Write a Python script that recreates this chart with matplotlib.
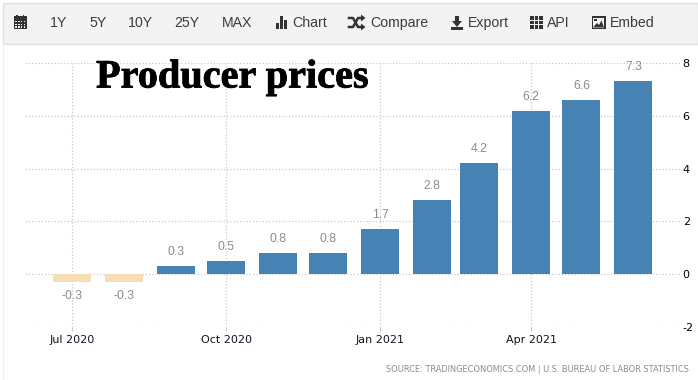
import matplotlib
matplotlib.use("Agg")
import matplotlib.dates as mdates
import matplotlib.patheffects as pe
import matplotlib.pyplot as plt
import numpy as np
import pandas as pd
from matplotlib.patches import Polygon, Rectangle

plt.rcParams["axes.unicode_minus"] = False

W, H = 698, 380

months = ["2020-07", "2020-08", "2020-09", "2020-10", "2020-11", "2020-12",
          "2021-01", "2021-02", "2021-03", "2021-04", "2021-05", "2021-06"]
values = [-0.3, -0.3, 0.3, 0.5, 0.8, 0.8, 1.7, 2.8, 4.2, 6.2, 6.6, 7.3]
value_labels = ["-0.3", "-0.3", "0.3", "0.5", "0.8", "0.8", "1.7", "2.8", "4.2", "6.2", "6.6", "7.3"]
y_ticks = [-2, 0, 2, 4, 6, 8]
x_ticks = ["2020-07-01", "2020-10-01", "2021-01-01", "2021-04-01"]
x_tick_labels = ["Jul 2020", "Oct 2020", "Jan 2021", "Apr 2021"]
menu_labels = ["1Y", "5Y", "10Y", "25Y", "MAX"]
menu_x = [50, 89, 128, 174, 222]
tool_labels = ["Chart", "Compare", "Export", "API", "Embed"]
tool_x = [292, 370, 468, 547, 610]

BLUE = "#4682b4"
NEG = "#f5deb3"
GRID = "#c8c8c8"
ICON = "#333333"
UI_FONT = "Liberation Sans"

dates = pd.to_datetime(months)
colors = [BLUE if v >= 0 else NEG for v in values]

fig = plt.figure(figsize=(W / 100, H / 100), dpi=100, facecolor="white")

# plot area in pixels: x 25-682, y 63-327
ax = fig.add_axes([25 / W, 1 - 327 / H, 657 / W, 264 / H])
ax.bar(dates, values, width=22.7, color=colors, zorder=3)
ax.set_xlim(pd.Timestamp("2020-06-03"), pd.Timestamp("2021-06-30"))
ax.set_ylim(-2, 8)

for d, v, lab in zip(dates, values, value_labels):
    off = 14 if v >= 0 else -14
    ax.annotate(lab, (mdates.date2num(d), v), xytext=(0, off * 0.72),
                textcoords="offset points", ha="center", va="center",
                fontsize=8.8, color="#8c8c8c", zorder=4,
                family="Liberation Sans")

ax.set_xticks(pd.to_datetime(x_ticks))
ax.set_xticklabels(x_tick_labels, fontsize=8, color="#111122")
ax.set_yticks(y_ticks)
ax.yaxis.tick_right()
ax.tick_params(axis="y", length=0, pad=0.5, labelsize=8, labelcolor="black")
ax.tick_params(axis="x", length=3, width=0.7, color=GRID, pad=2.5)
ax.grid(True, color=GRID, linestyle=(0, (1, 1.6)), linewidth=0.9, zorder=0)
ax.set_axisbelow(True)
for s in ax.spines.values():
    s.set_visible(False)

# overlay in pixel coordinates for the toolbar and the pasted-on title
ui = fig.add_axes([0, 0, 1, 1], zorder=5)
ui.set_xlim(0, W)
ui.set_ylim(H, 0)
ui.axis("off")
ui.patch.set_alpha(0)

ui.add_patch(Rectangle((3, 2.5), W - 3, 41, facecolor="#f3f3f3", edgecolor="#e0e0e0", linewidth=1))
ui.plot([3, 3], [44, H], color="#f2f2f2", linewidth=1)

for x, lab in zip(menu_x, menu_labels):
    ui.text(x, 23, lab, fontsize=10.2, color="#3c3c3c", va="center", family=UI_FONT)
for x, lab in zip(tool_x, tool_labels):
    ui.text(x, 23, lab, fontsize=10.2, color="#3c3c3c", va="center", family=UI_FONT)


def box(x, y, w, h, color=ICON):
    ui.add_patch(Rectangle((x, y), w, h, facecolor=color, edgecolor="none"))


# calendar
box(13.5, 16, 13, 13)
for i in range(4):
    for j in range(3):
        box(14.8 + i * 2.9, 20.8 + j * 2.7, 1.8, 1.6, "#f3f3f3")
box(16, 15, 1.5, 2)
box(22.5, 15, 1.5, 2)
# bar chart
box(275.5, 23, 3, 6)
box(279.5, 16, 3, 13)
box(283.5, 20, 3, 9)
# shuffle arrows
ui.plot([349, 353, 358, 362], [18, 18, 27, 27], color=ICON, linewidth=1.8)
ui.plot([349, 353, 358, 362], [27, 27, 18, 18], color=ICON, linewidth=1.8)
ui.add_patch(Polygon([[361, 14.5], [365.5, 18], [361, 21.5]], facecolor=ICON))
ui.add_patch(Polygon([[361, 23.5], [365.5, 27], [361, 30.5]], facecolor=ICON))
# download
box(455, 15.5, 4, 7)
ui.add_patch(Polygon([[452, 21], [462, 21], [457, 27]], facecolor=ICON))
box(451, 27, 12, 2.5)
# grid
for i in range(3):
    for j in range(3):
        box(530 + i * 4.5, 16 + j * 4.5, 3.6, 3.6)
# picture
box(591.5, 16, 14, 13)
box(593, 17.5, 11, 10, "#f3f3f3")
ui.add_patch(Polygon([[593, 27.5], [597, 23], [599, 25], [601.5, 20.5], [604, 27.5]], facecolor=ICON))
box(594, 18.5, 2.5, 2.5)

title = ui.text(96, 78, "Producer prices", fontsize=29, fontweight="bold", color="black",
                va="center", family="Liberation Serif")
title.set_path_effects([pe.withStroke(linewidth=0.6, foreground="black")])
ui.text(689, 369, "SOURCE: TRADINGECONOMICS.COM | U.S. BUREAU OF LABOR STATISTICS",
        fontsize=5.97, color="#8a8a96", ha="right", va="center", family="DejaVu Sans")

fig.savefig("out.png", dpi=100)
